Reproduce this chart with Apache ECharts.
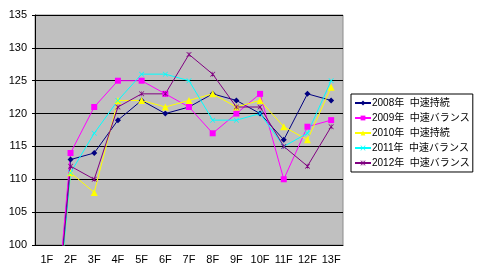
<!DOCTYPE html>
<html><head><meta charset="utf-8">
<script src="https://cdn.jsdelivr.net/npm/echarts@6/dist/echarts.min.js"></script>
<style>html,body{margin:0;padding:0;background:#fff}#c{width:480px;height:273px}</style>
</head><body><div id="c"></div>
<script>
const categories = ['1F','2F','3F','4F','5F','6F','7F','8F','9F','10F','11F','12F','13F'];
const seriesNames = ['2008年  中速持続','2009年  中速バランス','2010年  中速持続','2011年  中速バランス','2012年  中速バランス'];
const s2008 = [72,113,114,119,122,120,121,123,122,120,116,123,122];
const s2009 = [73,114,121,125,125,123,121,117,120,123,110,118,119];
const s2010 = [71,111,108,122,122,121,122,123,121,122,118,116,124];
const s2011 = [71,111,117,122,126,126,125,119,119,120,115,117,125];
const s2012 = [72,112,110,121,123,123,129,126,121,121,115,112,118];
const yTicks = [100,105,110,115,120,125,130,135];

const colors = ['#000080','#FF00FF','#FFFF00','#00FFFF','#800080'];
const symbols = ['diamond','rect','triangle',
  'path://M0,0L1,0L5,4L9,0L10,0L10,1L6,5L10,9L10,10L9,10L5,6L1,10L0,10L0,9L4,5L0,1Z',
  'path://M0,0L1,0L5,4L9,0L10,0L10,1L6,5L10,9L10,10L9,10L5,6L1,10L0,10L0,9L4,5L0,1ZM4.5,0L5.5,0L5.5,10L4.5,10Z'];
const symSizes = [6,6,7,5,5];
const data = [s2008,s2009,s2010,s2011,s2012];

const chart = echarts.init(document.getElementById('c'));
chart.setOption({
  animation:false,
  textStyle:{fontFamily:'Liberation Sans, Noto Sans CJK JP'},
  grid:{left:35,right:137,top:15,bottom:28,show:true,backgroundColor:'#C0C0C0',borderColor:'#8c8c8c',borderWidth:1},
  legend:{
    orient:'vertical',left:351,top:94,
    backgroundColor:'#fff',borderColor:'#000',borderWidth:1,
    padding:[4,3,4,3],itemGap:5,itemWidth:16,itemHeight:6,
    textStyle:{fontSize:10,color:'#000',fontFamily:'Liberation Sans, Noto Sans CJK JP',padding:[0,0,0,-4]},
    data:seriesNames
  },
  xAxis:{type:'category',data:categories,boundaryGap:true,
    axisLine:{lineStyle:{color:'#000',width:1}},
    axisTick:{inside:true,length:3,lineStyle:{color:'#000'}},
    axisLabel:{color:'#000',fontSize:11,margin:9,interval:0},
    splitLine:{show:false}},
  yAxis:{type:'value',min:100,max:135,interval:5,
    axisLine:{show:true,lineStyle:{color:'#000',width:1}},
    axisTick:{show:true,length:3,lineStyle:{color:'#000'}},
    axisLabel:{color:'#000',fontSize:11,margin:8,formatter:v=>yTicks.includes(v)?String(v):''},
    splitLine:{lineStyle:{color:'#000',width:1}}},
  series:data.map((d,i)=>({
    name:seriesNames[i],type:'line',data:d,clip:true,
    symbol:symbols[i],symbolSize:symSizes[i],showSymbol:true,
    lineStyle:{color:colors[i],width:1},
    itemStyle:{color:colors[i],borderColor:colors[i],borderWidth:0}
  }))
});
</script></body></html>
